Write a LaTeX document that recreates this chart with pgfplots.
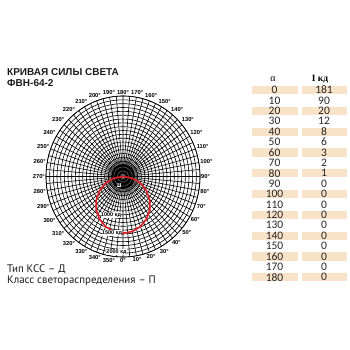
\documentclass[border=0pt]{standalone}
\usepackage{pgfplots}
\pgfplotsset{compat=1.18}
\usepgfplotslibrary{polar}
\usepackage{fontspec}
\setmainfont{Liberation Sans}
\newfontfamily\carlito{Carlito}
\newfontfamily\serifr{Liberation Serif}
\newfontfamily\ptsans{PT Sans}
\definecolor{peach}{RGB}{248,226,200}
\definecolor{kssred}{RGB}{226,30,36}
\begin{document}
\begin{tikzpicture}
\useasboundingbox (0,0) rectangle (350pt,-350pt);
% titles
\node[anchor=west,inner sep=0pt,font=\fontsize{10}{10}\selectfont\bfseries,text=black!90] at (7pt,-72pt) {КРИВАЯ СИЛЫ СВЕТА};
\node[anchor=west,inner sep=0pt,font=\fontsize{10}{10}\selectfont\bfseries,text=black!90] at (7pt,-83pt) {ФВН-64-2};
\node[anchor=west,inner sep=0pt,font=\ptsans\fontsize{10.9}{11}\selectfont,text=black!90] at (7pt,-269pt) {Тип КСС – Д};
\node[anchor=west,inner sep=0pt,font=\ptsans\fontsize{10.9}{11}\selectfont,text=black!90] at (7pt,-281pt) {Класс светораспределения – П};
% polar diagram
\begin{polaraxis}[
  at={(123pt,-176.5pt)}, anchor=center,
  scale only axis, width=154pt, height=161pt,
  ymin=0, ymax=2100,
  xtick={0,5,...,355},
  xticklabels={90°,,100°,,110°,,120°,,130°,,140°,,150°,,160°,,170°,,180°,,190°,,200°,,210°,,220°,,230°,,240°,,250°,,260°,,270°,,280°,,290°,,300°,,310°,,320°,,330°,,340°,,350°,,0°,,10°,,20°,,30°,,40°,,50°,,60°,,70°,,80°,},
  ytick={100,200,...,2100},
  yticklabels={},
  extra y ticks={30,50,70,150,250,350,450},
  extra y tick labels={},
  extra y tick style={grid=major,major grid style={black!55,line width=0.45pt}},
  grid=major,
  major grid style={black,line width=0.6pt},
  axis line style={black,line width=0.65pt},
  y axis line style={draw=none},
  xtick style={draw=none}, ytick style={draw=none},
  xticklabel style={font=\fontsize{5.8}{6}\selectfont\bfseries,inner sep=1pt},
]
\addplot[kssred,line width=1.6pt] coordinates {
 (180,0) (190,257) (200,506) (210,740) (220,951) (230,1134) (240,1282)
 (250,1391) (260,1458) (270,1480) (280,1458) (290,1391) (300,1282)
 (310,1134) (320,951) (330,740) (340,506) (350,257) (360,0)};
\end{polaraxis}
% radial labels
\begin{scope}[every node/.style={font=\fontsize{5.5}{6}\selectfont\bfseries,inner sep=0.3pt,fill=white}]
\node[fill=black!15] at (119pt,-185pt) {0};
\node at (111pt,-215pt) {1000 кд};
\node at (112pt,-233pt) {1500 кд};
\node at (116.5pt,-252pt) {2000 кд};
\end{scope}
% table
\node[font=\serifr\fontsize{10}{10}\selectfont] at (273pt,-79pt) {α};
\node[font=\serifr\fontsize{9.5}{10}\selectfont\bfseries] at (320pt,-79pt) {I кд};
\foreach \a/\v [count=\i from 0] in {0/181,10/90,20/20,30/12,40/8,50/6,60/3,70/2,80/1,90/0,100/0,110/0,120/0,130/0,140/0,150/0,160/0,170/0,180/0} {
  \pgfmathsetmacro\yc{-(90+10.4*\i)}
  \pgfmathsetmacro\yt{\yc+4.1}
  \pgfmathsetmacro\yb{\yc-4.1}
  \ifodd\i\else
    \fill[peach] (251.7pt,\yt pt) rectangle (298pt,\yb pt);
    \fill[peach] (301.7pt,\yt pt) rectangle (346.7pt,\yb pt);
  \fi
  \node[font=\carlito\fontsize{11.5}{11}\selectfont,text=black!85,inner sep=0pt] at (274.5pt,\yc pt) {\a};
  \node[font=\carlito\fontsize{11.5}{11}\selectfont,text=black!85,inner sep=0pt] at (324pt,\yc pt) {\v};
}
\end{tikzpicture}
\end{document}
